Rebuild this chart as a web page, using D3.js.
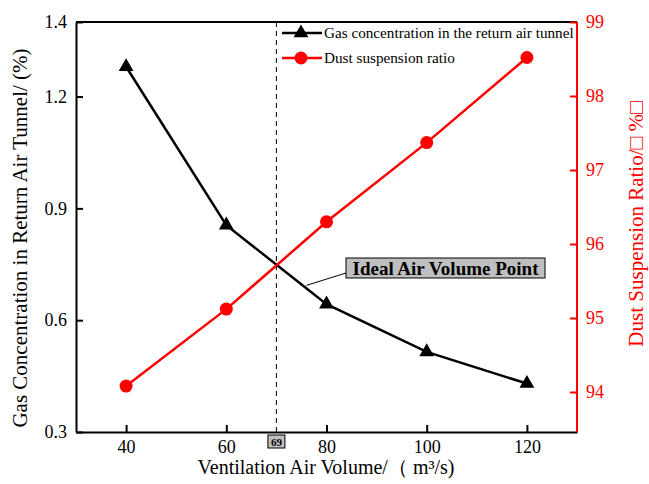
<!DOCTYPE html>
<html>
<head>
  <meta charset="utf-8">
  <title>Gas concentration and dust suspension vs ventilation air volume</title>
  <script src="https://cdn.jsdelivr.net/npm/d3@7"></script>
  <style>
    body { margin: 0; background: #fff; }
    svg text { font-family: "Liberation Serif", "DejaVu Serif", serif !important; }
  </style>
</head>
<body>
  <svg id="chart" width="649" height="484"></svg>
  <script>
    // data
    var airVolume = [40, 60, 80, 100, 120];
    var gasConc = [1.28, 0.855, 0.643, 0.515, 0.43];
    var dustRatio = [94.08, 95.12, 96.3, 97.37, 98.52];
    var xTicks = [40, 60, 80, 100, 120];
    var yLeftTicks = [0.3, 0.6, 0.9, 1.2, 1.4];
    var yRightTicks = [94, 95, 96, 97, 98, 99];
    var idealX = 70, idealLabel = "69";

    var W = 649, H = 484;
    var m = { l: 76, r: 577, t: 22, b: 432 };
    var svg = d3.select("#chart");
    svg.append("rect").attr("width", W).attr("height", H).attr("fill", "#fff");

    var x = d3.scaleLinear().domain([30, 130]).range([m.l, m.r]);
    var yL = d3.scaleLinear().domain([0.3, 1.4]).range([m.b, m.t]);
    var yR = d3.scaleLinear().domain([99 - (m.b - m.t) / 74, 99]).range([m.b, m.t]);

    // dashed reference line
    svg.append("line")
      .attr("x1", x(idealX)).attr("x2", x(idealX))
      .attr("y1", m.t).attr("y2", m.b)
      .attr("stroke", "#000").attr("stroke-width", 1)
      .attr("stroke-dasharray", "5,4");

    // top frame
    svg.append("line").attr("x1", m.l).attr("x2", m.r).attr("y1", m.t).attr("y2", m.t)
      .attr("stroke", "#000").attr("stroke-width", 2);

    function styleAxis(g, col) {
      g.attr("font-size", 18);
      g.selectAll("path,line").attr("stroke", col).attr("stroke-width", 2);
      g.selectAll("text").attr("fill", col).style("font-size", "18px");
    }

    var gx = svg.append("g").attr("transform", "translate(0," + m.b + ")")
      .call(d3.axisBottom(x).tickValues(xTicks).tickSizeInner(-7).tickSizeOuter(0).tickPadding(8));
    styleAxis(gx, "#000");

    var gl = svg.append("g").attr("transform", "translate(" + m.l + ",0)")
      .call(d3.axisLeft(yL).tickValues(yLeftTicks).tickFormat(d3.format(".1f"))
        .tickSizeInner(-7).tickSizeOuter(0).tickPadding(9));
    styleAxis(gl, "#000");

    var gr = svg.append("g").attr("transform", "translate(" + m.r + ",0)")
      .call(d3.axisRight(yR).tickValues(yRightTicks).tickFormat(d3.format("d"))
        .tickSizeInner(-7).tickSizeOuter(0).tickPadding(9));
    styleAxis(gr, "#ff0000");
    gr.select(".domain").attr("d", "M0," + m.t + "V" + m.b);

    // series lines
    var gasLine = d3.line().x(function (d, i) { return x(airVolume[i]); }).y(function (d) { return yL(d); });
    var dustLine = d3.line().x(function (d, i) { return x(airVolume[i]); }).y(function (d) { return yR(d); });

    svg.append("path").attr("d", gasLine(gasConc)).attr("fill", "none")
      .attr("stroke", "#000").attr("stroke-width", 2.5);
    svg.append("path").attr("d", dustLine(dustRatio)).attr("fill", "none")
      .attr("stroke", "#ff0000").attr("stroke-width", 2.5);

    var tri = d3.symbol().type(d3.symbolTriangle).size(95);
    svg.selectAll("path.tri").data(gasConc).enter().append("path")
      .attr("class", "tri").attr("d", tri)
      .attr("transform", function (d, i) { return "translate(" + x(airVolume[i]) + "," + yL(d) + ")"; })
      .attr("fill", "#000");
    svg.selectAll("circle.dot").data(dustRatio).enter().append("circle")
      .attr("class", "dot").attr("r", 6.5)
      .attr("cx", function (d, i) { return x(airVolume[i]); })
      .attr("cy", function (d) { return yR(d); })
      .attr("fill", "#ff0000");

    // annotation
    var startX = 76;
    var startY = yL(gasConc[1] + (gasConc[2] - gasConc[1]) * (startX - 60) / 20);
    svg.append("line").attr("x1", x(startX)).attr("y1", startY - 3)
      .attr("x2", 346).attr("y2", 273).attr("stroke", "#000").attr("stroke-width", 1);
    svg.append("rect").attr("x", 346).attr("y", 258).attr("width", 199).attr("height", 20)
      .attr("fill", "#bfbfbf").attr("stroke", "#000").attr("stroke-width", 1);
    svg.append("text").attr("x", 445.5).attr("y", 275).attr("text-anchor", "middle")
      .style("font-size", "19px").style("font-weight", "bold").text("Ideal Air Volume Point");

    // "69" marker under the axis
    svg.append("rect").attr("x", x(idealX) - 8.5).attr("y", 435).attr("width", 17).attr("height", 13)
      .attr("fill", "#bfbfbf").attr("stroke", "#000").attr("stroke-width", 1);
    svg.append("text").attr("x", x(idealX)).attr("y", 446).attr("text-anchor", "middle")
      .style("font-size", "11px").style("font-weight", "bold").text(idealLabel);

    // legend
    var legend = [
      { name: "Gas concentration in the return air tunnel", col: "#000", sym: "tri", y: 33 },
      { name: "Dust suspension ratio", col: "#ff0000", sym: "dot", y: 58 }
    ];
    legend.forEach(function (e) {
      svg.append("line").attr("x1", 282).attr("x2", 322).attr("y1", e.y).attr("y2", e.y)
        .attr("stroke", e.col).attr("stroke-width", 2.5);
      if (e.sym === "tri") {
        svg.append("path").attr("d", tri).attr("transform", "translate(301," + e.y + ")").attr("fill", e.col);
      } else {
        svg.append("circle").attr("cx", 301).attr("cy", e.y).attr("r", 6.5).attr("fill", e.col);
      }
      svg.append("text").attr("x", 324).attr("y", e.y + 5).style("font-size", "15.2px")
        .attr("fill", "#000").text(e.name);
    });

    // axis titles
    svg.append("text").attr("x", 326).attr("y", 474).attr("text-anchor", "middle")
      .style("font-size", "20px").text("Ventilation Air Volume/（ m³/s)");
    svg.append("text").attr("transform", "translate(27,238) rotate(-90)").attr("text-anchor", "middle")
      .style("font-size", "21px").text("Gas Concentration in Return Air Tunnel/  (%)");
    svg.append("text").attr("transform", "translate(643,224) rotate(-90)").attr("text-anchor", "middle")
      .attr("fill", "#ff0000").style("font-size", "21px").text("Dust Suspension Ratio/□ %□");
  </script>
</body>
</html>
